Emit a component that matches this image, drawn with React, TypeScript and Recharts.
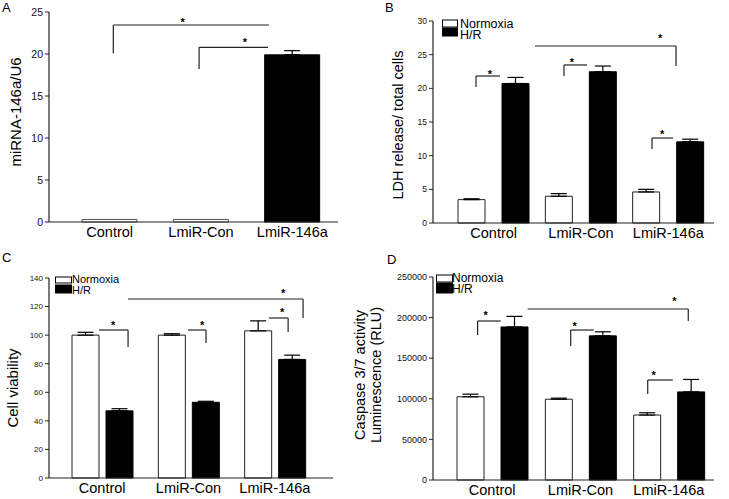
import React from 'react';
import { BarChart, Bar, XAxis, YAxis, ErrorBar, Cell, ReferenceLine, ReferenceDot, Legend } from 'recharts';

const FONT = '"Liberation Sans", Arial, Helvetica, sans-serif';

const categories = ['Control', 'LmiR-Con', 'LmiR-146a'];
const seriesNames = ['Normoxia', 'H/R'];

// Panel A
const aValues = [0.3, 0.3, 19.9];
const aErrors = [null, null, 0.5];
const aTicks = [0, 5, 10, 15, 20, 25];
const aFills = ['#fff', '#fff', '#000'];

// Panel B
const bNormoxia = [3.47, 3.97, 4.61];
const bNormoxiaErr = [0.13, 0.39, 0.39];
const bHR = [20.72, 22.46, 12.05];
const bHRErr = [0.9, 0.85, 0.4];
const bTicks = [0, 5, 10, 15, 20, 25, 30];

// Panel C
const cNormoxia = [100, 100, 103];
const cNormoxiaErr = [2, 1, 7];
const cHR = [47, 53, 83];
const cHRErr = [1.5, 0.7, 3];
const cTicks = [0, 20, 40, 60, 80, 100, 120, 140];

// Panel D
const dNormoxia = [102500, 99500, 80000];
const dNormoxiaErr = [3200, 1300, 2800];
const dHR = [188500, 177500, 108500];
const dHRErr = [13000, 5000, 15300];
const dTicks = [0, 50000, 100000, 150000, 200000, 250000];

// significance brackets: [position in category units (0..3), value]
type Pt = [number, number];
const aBrackets: Pt[][] = [
  [[0.54, 20.1], [0.54, 23.45], [2.245, 23.45]],
  [[1.479, 18.2], [1.479, 20.8], [2.234, 20.8]],
];
const aStars: Pt[] = [[1.3, 24.05], [1.98, 21.67]];

const bBrackets: Pt[][] = [
  [[0.298, 20.2], [0.298, 21.83], [0.573, 21.83]],
  [[1.305, 21.83], [1.305, 23.47], [1.569, 23.47]],
  [[2.313, 11.0], [2.313, 12.62], [2.554, 12.62]],
  [[0.973, 26.29], [2.588, 26.29], [2.588, 23.32]],
];
const bStars: Pt[] = [[0.458, 22.4], [1.397, 24.2], [2.428, 13.5], [2.405, 27.8]];

const cBrackets: Pt[][] = [
  [[0.463, 103.6], [0.8, 103.6], [0.8, 91.7]],
  [[1.495, 103.6], [1.703, 103.6], [1.703, 94.5]],
  [[2.433, 112], [2.654, 112], [2.654, 102.2]],
  [[0.8, 125.3], [2.827, 125.3], [2.827, 112]],
];
const cStars: Pt[] = [[0.626, 108.5], [1.657, 108.5], [2.584, 117.6], [2.596, 130.9]];

const dBrackets: Pt[][] = [
  [[0.335, 178600], [0.335, 195800], [0.596, 195800]],
  [[1.389, 165000], [1.389, 184700], [1.65, 184700]],
  [[2.261, 105900], [2.261, 123150], [2.545, 123150]],
  [[0.902, 210600], [2.72, 210600], [2.72, 195800]],
];
const dStars: Pt[] = [[0.426, 205700], [1.434, 192100], [2.329, 131800], [2.562, 222900]];

const aData = categories.map((c, i) => ({ name: c, value: aValues[i], err: aErrors[i] == null ? null : [0, aErrors[i]] }));
const groupData = (n: number[], ne: number[], h: number[], he: number[]) =>
  categories.map((c, i) => ({ name: c, normoxia: n[i], nErr: [0, ne[i]], hr: h[i], hErr: [0, he[i]] }));
const bData = groupData(bNormoxia, bNormoxiaErr, bHR, bHRErr);
const cData = groupData(cNormoxia, cNormoxiaErr, cHR, cHRErr);
const dData = groupData(dNormoxia, dNormoxiaErr, dHR, dHRErr);

const AXIS = '#222';
const NUM_MAX = categories.length - 1;
// the hidden numeric x axis spans [0, n-1] over the whole padded band range
const toAxis = (u: number) => (u * NUM_MAX) / categories.length;

function bracketLines(brackets: Pt[][], prefix: string) {
  const out: any[] = [];
  brackets.forEach((b, bi) => {
    for (let i = 0; i < b.length - 1; i++) {
      out.push(
        <ReferenceLine
          key={`${prefix}-br-${bi}-${i}`}
          xAxisId="num"
          segment={[{ x: toAxis(b[i][0]), y: b[i][1] }, { x: toAxis(b[i + 1][0]), y: b[i + 1][1] }]}
          stroke="#222"
          strokeWidth={1.2}
          ifOverflow="visible"
        />
      );
    }
  });
  return out;
}

function starDots(stars: Pt[], prefix: string) {
  return stars.map((s, i) => (
    <ReferenceDot
      key={`${prefix}-st-${i}`}
      xAxisId="num"
      x={toAxis(s[0])}
      y={s[1]}
      r={0}
      ifOverflow="visible"
      shape={(p: any) => (
        <text x={p.cx} y={p.cy + 6} textAnchor="middle" fontSize={11} fontWeight="bold" fontFamily={FONT} fill="#000">
          *
        </text>
      )}
    />
  ));
}

const YLabel = (props: any) => {
  const { viewBox, lines, xs, fontSize, cy } = props;
  const y = cy != null ? cy : viewBox ? viewBox.y + viewBox.height / 2 : 120;
  return (
    <g>
      {lines.map((l: string, i: number) => (
        <text
          key={i}
          x={xs[i]}
          y={y}
          transform={`rotate(-90, ${xs[i]}, ${y})`}
          textAnchor="middle"
          dominantBaseline="central"
          fontSize={fontSize}
          fontFamily={FONT}
          fill="#000"
        >
          {l}
        </text>
      ))}
    </g>
  );
};

const makeLegend = (fontSize: number, boxW: number, box1: [number, number], box2: [number, number], textX: number, base1: number, base2: number) =>
  (props: any) => {
    const payload = (props.payload || []).slice().sort(
      (a: any, b: any) => seriesNames.indexOf(a.value) - seriesNames.indexOf(b.value)
    );
    const boxes = [box1, box2];
    const bases = [base1, base2];
    return (
      <svg width={110} height={26} style={{ display: 'block', overflow: 'visible' }}>
        {payload.map((p: any, i: number) => (
          <g key={i}>
            <rect x={0.5} y={boxes[i][0]} width={boxW} height={boxes[i][1]} fill={p.color} stroke="#000" strokeWidth={1} />
            <text x={textX} y={bases[i]} fontSize={fontSize} fontFamily={FONT} fill="#000">
              {p.value}
            </text>
          </g>
        ))}
      </svg>
    );
  };

const catTick = { fontSize: 14.5, fill: '#000', fontFamily: FONT };

export default function App() {
  return (
    <div style={{ position: 'absolute', left: 0, top: 0, width: 729, height: 499, background: '#fff', overflow: 'hidden' }}>
      {/* panel letters */}
      <div style={{ position: 'absolute', left: 2, top: 0, fontFamily: FONT, fontSize: 13 }}>A</div>
      <div style={{ position: 'absolute', left: 385, top: 0, fontFamily: FONT, fontSize: 13 }}>B</div>
      <div style={{ position: 'absolute', left: 2, top: 250, fontFamily: FONT, fontSize: 13 }}>C</div>
      <div style={{ position: 'absolute', left: 387, top: 252, fontFamily: FONT, fontSize: 13 }}>D</div>

      {/* Panel A */}
      <div style={{ position: 'absolute', left: 0, top: 0 }}>
        <BarChart width={364} height={250} data={aData} margin={{ top: 12, right: 26, bottom: 6, left: 9 }} barSize={55}>
          <XAxis dataKey="name" height={22} tickLine={false} axisLine={{ stroke: AXIS, strokeWidth: 1.2 }} tick={catTick} padding={{ left: 15, right: 0 }} tickSize={3} tickMargin={2} interval={0} />
          <XAxis xAxisId="num" type="number" domain={[0, NUM_MAX]} hide allowDataOverflow padding={{ left: 15, right: 0 }} />
          <YAxis
            width={40}
            domain={[0, 25]}
            ticks={aTicks}
            tickSize={4}
            tick={{ fontSize: 10.5, fill: '#111', fontFamily: FONT }}
            axisLine={{ stroke: AXIS, strokeWidth: 1.2 }}
            tickLine={{ stroke: AXIS }}
            label={<YLabel lines={['miRNA-146a/U6']} xs={[15]} fontSize={15} cy={112} />}
          />
          <Bar dataKey="value" stroke="#333" strokeWidth={1} isAnimationActive={false}>
            {aData.map((d, i) => (
              <Cell key={i} fill={aFills[i]} stroke={aFills[i] === '#fff' ? '#555' : '#000'} />
            ))}
            <ErrorBar dataKey="err" width={8} stroke="#000" strokeWidth={1.2} />
          </Bar>
          {bracketLines(aBrackets, 'a')}
          {starDots(aStars, 'a')}
        </BarChart>
      </div>

      {/* Panel B */}
      <div style={{ position: 'absolute', left: 364, top: 0 }}>
        <BarChart width={365} height={250} data={bData} margin={{ top: 21, right: 15, bottom: 5, left: 29 }} barSize={27} barGap={17}>
          <XAxis dataKey="name" height={22} tickLine={false} axisLine={{ stroke: AXIS, strokeWidth: 1.2 }} tick={catTick} padding={{ left: 17, right: 2 }} tickSize={3} tickMargin={2} interval={0} />
          <XAxis xAxisId="num" type="number" domain={[0, NUM_MAX]} hide allowDataOverflow padding={{ left: 17, right: 2 }} />
          <YAxis
            width={40}
            domain={[0, 30]}
            ticks={bTicks}
            tickSize={4}
            tick={{ fontSize: 8.5, fill: '#111', fontFamily: FONT }}
            axisLine={{ stroke: AXIS, strokeWidth: 1.2 }}
            tickLine={{ stroke: AXIS }}
            label={<YLabel lines={['LDH release/ total cells']} xs={[34]} fontSize={14.5} cy={125} />}
          />
          <Legend
            layout="vertical"
            align="center"
            verticalAlign="middle"
            wrapperStyle={{ left: 78, top: 18, width: 110, height: 26 }}
            content={makeLegend(12.5, 15, [2, 7], [10, 8], 18, 10, 21)}
          />
          <Bar dataKey="normoxia" name={seriesNames[0]} fill="#fff" stroke="#222" strokeWidth={1} isAnimationActive={false}>
            <ErrorBar dataKey="nErr" width={8} stroke="#000" strokeWidth={1.2} />
          </Bar>
          <Bar dataKey="hr" name={seriesNames[1]} fill="#000" stroke="#000" strokeWidth={1} isAnimationActive={false}>
            <ErrorBar dataKey="hErr" width={8} stroke="#000" strokeWidth={1.2} />
          </Bar>
          {bracketLines(bBrackets, 'b')}
          {starDots(bStars, 'b')}
        </BarChart>
      </div>

      {/* Panel C */}
      <div style={{ position: 'absolute', left: 0, top: 250 }}>
        <BarChart width={364} height={249} data={cData} margin={{ top: 28, right: 31, bottom: 1, left: 9 }} barSize={27} barGap={7}>
          <XAxis dataKey="name" height={20} tickLine={false} axisLine={{ stroke: AXIS, strokeWidth: 1.2 }} tick={catTick} padding={{ left: 10, right: 15 }} tickSize={3} tickMargin={2} interval={0} />
          <XAxis xAxisId="num" type="number" domain={[0, NUM_MAX]} hide allowDataOverflow padding={{ left: 10, right: 15 }} />
          <YAxis
            width={40}
            domain={[0, 140]}
            ticks={cTicks}
            tickSize={4}
            tick={{ fontSize: 8, fill: '#111', fontFamily: FONT }}
            axisLine={{ stroke: AXIS, strokeWidth: 1.2 }}
            tickLine={{ stroke: AXIS }}
            label={<YLabel lines={['Cell viability']} xs={[12]} fontSize={15} cy={138} />}
          />
          <Legend
            layout="vertical"
            align="center"
            verticalAlign="middle"
            wrapperStyle={{ left: 55, top: 26, width: 110, height: 26 }}
            content={makeLegend(11, 16, [1, 6], [9, 8], 17, 7, 18)}
          />
          <Bar dataKey="normoxia" name={seriesNames[0]} fill="#fff" stroke="#222" strokeWidth={1} isAnimationActive={false}>
            <ErrorBar dataKey="nErr" width={8} stroke="#000" strokeWidth={1.2} />
          </Bar>
          <Bar dataKey="hr" name={seriesNames[1]} fill="#000" stroke="#000" strokeWidth={1} isAnimationActive={false}>
            <ErrorBar dataKey="hErr" width={8} stroke="#000" strokeWidth={1.2} />
          </Bar>
          {bracketLines(cBrackets, 'c')}
          {starDots(cStars, 'c')}
        </BarChart>
      </div>

      {/* Panel D */}
      <div style={{ position: 'absolute', left: 346, top: 250 }}>
        <BarChart width={383} height={249} data={dData} margin={{ top: 27, right: 15, bottom: 0, left: 47 }} barSize={27} barGap={17}>
          <XAxis dataKey="name" height={19} tickLine={false} axisLine={{ stroke: AXIS, strokeWidth: 1.2 }} tick={catTick} padding={{ left: 15, right: 1 }} tickSize={3} tickMargin={2} interval={0} />
          <XAxis xAxisId="num" type="number" domain={[0, NUM_MAX]} hide allowDataOverflow padding={{ left: 15, right: 1 }} />
          <YAxis
            width={40}
            domain={[0, 250000]}
            ticks={dTicks}
            tickSize={4}
            tick={{ fontSize: 9, fill: '#111', fontFamily: FONT }}
            axisLine={{ stroke: AXIS, strokeWidth: 1.2 }}
            tickLine={{ stroke: AXIS }}
            label={<YLabel lines={['Caspase 3/7 activity', 'Luminescence (RLU)']} xs={[14, 30]} fontSize={14.5} cy={125} />}
          />
          <Legend
            layout="vertical"
            align="center"
            verticalAlign="middle"
            wrapperStyle={{ left: 90, top: 24, width: 110, height: 26 }}
            content={makeLegend(12, 16, [1, 7], [9, 10], 16, 8, 19)}
          />
          <Bar dataKey="normoxia" name={seriesNames[0]} fill="#fff" stroke="#222" strokeWidth={1} isAnimationActive={false}>
            <ErrorBar dataKey="nErr" width={8} stroke="#000" strokeWidth={1.2} />
          </Bar>
          <Bar dataKey="hr" name={seriesNames[1]} fill="#000" stroke="#000" strokeWidth={1} isAnimationActive={false}>
            <ErrorBar dataKey="hErr" width={8} stroke="#000" strokeWidth={1.2} />
          </Bar>
          {bracketLines(dBrackets, 'd')}
          {starDots(dStars, 'd')}
        </BarChart>
      </div>
    </div>
  );
}
